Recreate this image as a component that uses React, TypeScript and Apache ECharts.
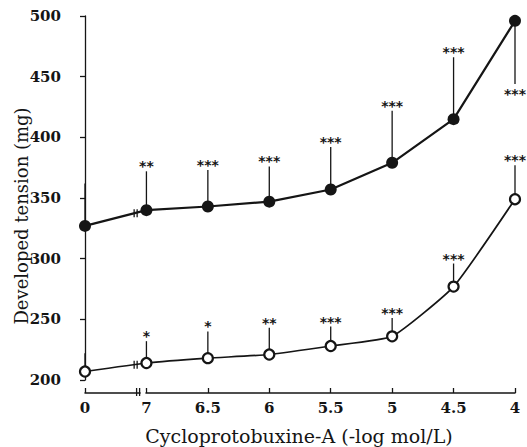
import React, { useEffect, useRef } from "react";
import * as echarts from "echarts";

const xLabels = ["0", "7", "6.5", "6", "5.5", "5", "4.5", "4"];
const filledMean = [327, 340, 343, 347, 357, 379, 415, 496];
const filledErr = [362, 372, 373, 376, 392, 422, 466, 444];
const filledStars = ["", "**", "***", "***", "***", "***", "***", "***"];
const openMean = [207, 214, 218, 221, 228, 236, 277, 349];
const openErr = [222, 232, 240, 243, 244, 251, 296, 377];
const openStars = ["", "*", "*", "**", "***", "***", "***", "***"];

const INK = "#151515";
const SERIF = "'DejaVu Serif', 'Liberation Serif', serif";

function errSeries(mean: number[], err: number[], stars: string[]) {
  return {
    type: "custom",
    z: 1,
    clip: false,
    data: mean.map((m, i) => [i, m, err[i]]),
    renderItem: (params: any, api: any) => {
      const x = api.value(0);
      const m = api.value(1);
      const e = api.value(2);
      const p1 = api.coord([x, m]);
      const p2 = api.coord([x, e]);
      const down = e < m;
      const star = stars[params.dataIndex];
      return {
        type: "group",
        children: [
          {
            type: "line",
            shape: { x1: p1[0], y1: p1[1], x2: p2[0], y2: p2[1] },
            style: { stroke: INK, lineWidth: 1.3 },
          },
          {
            type: "text",
            x: p2[0],
            y: down ? p2[1] + 10 : p2[1] - 5,
            style: {
              text: star,
              align: "center",
              verticalAlign: "middle",
              fill: INK,
              font: "bold 14px 'DejaVu Sans', sans-serif",
            },
          },
        ],
      };
    },
  };
}

export default function App() {
  const ref = useRef<HTMLDivElement>(null);
  useEffect(() => {
    const chart = echarts.init(ref.current!, null, { renderer: "svg" });
    const option: any = {
      animation: false,
      backgroundColor: "#ffffff",
      grid: { left: 85, right: 12, top: 16, bottom: 67 },
      xAxis: {
        type: "value",
        min: 0,
        max: 7,
        interval: 1,
        offset: 13,
        splitLine: { show: false },
        axisLine: { show: true, lineStyle: { color: INK, width: 1.5 } },
        axisTick: { show: true, inside: true, length: 5, lineStyle: { color: INK, width: 1.3 } },
        axisLabel: {
          margin: 7,
          color: INK,
          fontFamily: SERIF,
          fontWeight: "bold",
          fontSize: 15,
          formatter: (v: number) => xLabels[Math.round(v)] ?? "",
        },
      },
      yAxis: {
        type: "value",
        min: 200,
        max: 500,
        interval: 50,
        offset: 22,
        splitLine: { show: false },
        axisLine: { show: true, lineStyle: { color: INK, width: 1.3 } },
        axisTick: { show: true, inside: false, length: 5, lineStyle: { color: INK, width: 1.3 } },
        axisLabel: {
          margin: 2,
          color: INK,
          fontFamily: SERIF,
          fontWeight: "bold",
          fontSize: 15,
        },
      },
      series: [
        errSeries(filledMean, filledErr, filledStars),
        errSeries(openMean, openErr, openStars),
        {
          type: "line",
          z: 3,
          data: filledMean.map((v, i) => [i, v]),
          symbol: "circle",
          symbolSize: 12,
          itemStyle: { color: INK },
          lineStyle: { color: INK, width: 2.2 },
        },
        {
          type: "line",
          z: 3,
          smooth: 0.15,
          data: openMean.map((v, i) => [i, v]),
          symbol: "circle",
          symbolSize: 10,
          itemStyle: { color: "#ffffff", borderColor: INK, borderWidth: 2.2 },
          lineStyle: { color: INK, width: 1.7 },
        },
      ],
    };
    chart.setOption(option);

    const toPx = (x: number, y: number) =>
      chart.convertToPixel({ gridIndex: 0 }, [x, y]) as number[];
    const graphics: any[] = [];
    const breakMark = (cx: number, cy: number) => {
      [0, 3].forEach((dx) =>
        graphics.push({
          type: "line",
          z: 10,
          shape: { x1: cx + dx, y1: cy - 4, x2: cx + dx, y2: cy + 4 },
          style: { stroke: INK, lineWidth: 1.3 },
        })
      );
    };
    [filledMean, openMean].forEach((arr) => {
      const a = toPx(0, arr[0]);
      const b = toPx(1, arr[1]);
      const f = 0.8;
      breakMark(a[0] + (b[0] - a[0]) * f, a[1] + (b[1] - a[1]) * f);
    });
    const axisY = toPx(0, 200)[1] + 13;
    const g0 = toPx(0.84, 200)[0];
    const g1 = toPx(1, 200)[0];
    graphics.push({
      type: "rect",
      z: 9,
      shape: { x: g0 + 4, y: axisY - 3, width: g1 - g0 - 5, height: 6 },
      style: { fill: "#ffffff" },
    });
    breakMark(g0, axisY - 1);
    graphics.push({
      type: "text",
      x: 21,
      y: 216,
      rotation: Math.PI / 2,
      style: {
        text: "Developed tension (mg)",
        align: "center",
        verticalAlign: "middle",
        fill: INK,
        font: "18px " + SERIF,
      },
    });
    graphics.push({
      type: "text",
      x: 299,
      y: 436,
      style: {
        text: "Cycloprotobuxine-A (-log mol/L)",
        align: "center",
        verticalAlign: "middle",
        fill: INK,
        font: "19px " + SERIF,
      },
    });
    chart.setOption({ graphic: graphics });
    return () => chart.dispose();
  }, []);
  return (
    <div
      ref={ref}
      style={{ position: "fixed", left: 0, top: 0, width: 527, height: 447 }}
    />
  );
}
